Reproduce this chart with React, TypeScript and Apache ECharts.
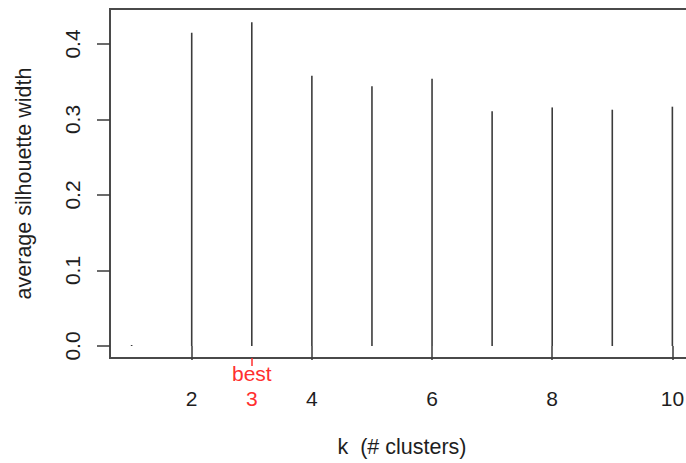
import React, { useEffect, useRef } from "react";
import * as echarts from "echarts";

const kValues = [1, 2, 3, 4, 5, 6, 7, 8, 9, 10];
const avgSilWidth = [0, 0.415, 0.429, 0.358, 0.344, 0.354, 0.311, 0.316, 0.313, 0.317];
const xTickValues = [2, 4, 6, 8, 10];
const yTickValues = [0, 0.1, 0.2, 0.3, 0.4];
const bestK = 3;
const xTitle = "k  (# clusters)";
const yTitle = "average silhouette width";

const FONT = "Liberation Sans, Arial, sans-serif";
const RED = "#ff2f2f";

export default function App() {
  const ref = useRef<HTMLDivElement>(null);
  useEffect(() => {
    if (!ref.current) return;
    const chart = echarts.init(ref.current, null, { renderer: "svg" });
    const data = kValues.map((k, i) => [k, avgSilWidth[i]]);
    chart.setOption({
      animation: false,
      backgroundColor: "#ffffff",
      grid: {
        left: 110,
        top: 9,
        width: 584,
        height: 349,
        show: true,
        borderColor: "#4a4a4a",
        borderWidth: 2,
        backgroundColor: "transparent",
        containLabel: false,
        outerBoundsMode: "none",
      },
      xAxis: [
        {
          type: "value",
          min: 0.64,
          max: 10.36,
          position: "bottom",
          axisLine: { show: false },
          splitLine: { show: false },
          axisTick: {
            show: true,
            customValues: xTickValues,
            length: 14,
            lineStyle: { color: "#3a3a3a", width: 1.5 },
          },
          axisLabel: {
            customValues: xTickValues,
            fontSize: 21,
            fontFamily: FONT,
            color: "#1e1e1e",
            margin: 28,
            lineHeight: 25,
          },
          name: xTitle,
          nameLocation: "middle",
          nameGap: 78,
          nameTextStyle: { fontSize: 21.5, fontFamily: FONT, color: "#1e1e1e" },
        },
        {
          type: "value",
          min: 0.64,
          max: 10.36,
          position: "bottom",
          axisLine: { show: false },
          splitLine: { show: false },
          axisTick: {
            show: true,
            customValues: [bestK],
            length: 8,
            lineStyle: { color: RED, width: 1.5 },
          },
          axisLabel: {
            customValues: [bestK],
            formatter: (v: number) => "best\n" + v,
            fontSize: 21,
            fontFamily: FONT,
            color: RED,
            margin: 3,
            lineHeight: 25,
          },
        },
      ],
      yAxis: {
        type: "value",
        min: -0.0159,
        max: 0.4464,
        axisLine: { show: false },
        splitLine: { show: false },
        axisTick: {
          show: true,
          customValues: yTickValues,
          length: 13,
          lineStyle: { color: "#3a3a3a", width: 1.5 },
        },
        axisLabel: {
          customValues: yTickValues,
          formatter: (v: number) => v.toFixed(1),
          rotate: 90,
          fontSize: 21,
          fontFamily: FONT,
          color: "#1e1e1e",
          margin: 27,
        },
        name: yTitle,
        nameLocation: "middle",
        nameGap: 75,
        nameTextStyle: { fontSize: 21.5, fontFamily: FONT, color: "#1e1e1e" },
      },
      series: [
        {
          type: "bar",
          xAxisIndex: 0,
          data,
          barWidth: 1.6,
          barMinHeight: 1,
          itemStyle: { color: "#3c3c3c" },
        },
      ],
    });
    return () => chart.dispose();
  }, []);
  return (
    <div
      ref={ref}
      style={{ position: "fixed", left: 0, top: 0, width: 686, height: 463, background: "#fff" }}
    />
  );
}
